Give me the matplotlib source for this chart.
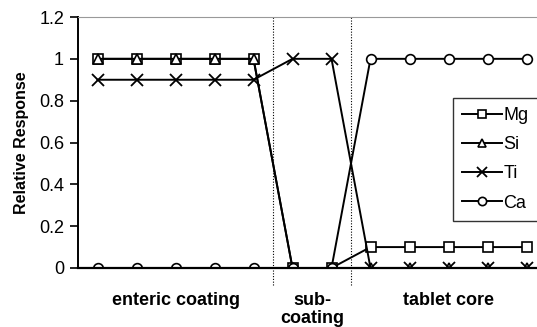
import numpy as np
import matplotlib.pyplot as plt

plt.rcParams['font.family'] = ['Liberation Sans', 'DejaVu Sans']

# sample positions through the tablet (12 measurement points)
positions = np.arange(1, 13)
mg = [1, 1, 1, 1, 1, 0, 0, 0.1, 0.1, 0.1, 0.1, 0.1]
si = [1, 1, 1, 1, 1, 0, 0, 0, 0, 0, 0, 0]
ti = [0.9, 0.9, 0.9, 0.9, 0.9, 1, 1, 0, 0, 0, 0, 0]
ca = [0, 0, 0, 0, 0, 0, 0, 1, 1, 1, 1, 1]

boundaries = [5.5, 7.5]
region_labels = ["enteric coating", "sub-\ncoating", "tablet core"]
region_centers = [3, 6.5, 10]

fig = plt.figure(figsize=(5.37, 3.27), dpi=100)
ax = fig.add_axes([78 / 537, 1 - 268 / 327, 468 / 537, 251 / 327])

ax.plot(positions, mg, color='black', lw=1.4, marker='s', ms=6.5, mfc='white', mec='black', mew=1.2, label='Mg')
ax.plot(positions, si, color='black', lw=1.4, marker='^', ms=7, mfc='white', mec='black', mew=1.2, label='Si')
ax.plot(positions, ti, color='black', lw=1.4, marker='x', ms=8, mec='black', mew=1.3, label='Ti')
ax.plot(positions, ca, color='black', lw=1.4, marker='o', ms=7, mfc='white', mec='black', mew=1.2, label='Ca')

for b in boundaries:
    ax.plot([b, b], [-0.08, 1.2], color='black', lw=0.8, ls=(0, (1, 1.5)), clip_on=False)

ax.set_xlim(0.5, 12.5)
ax.set_ylim(0, 1.2)
ax.set_yticks([0, 0.2, 0.4, 0.6, 0.8, 1, 1.2])
ax.set_yticklabels(['0', '0.2', '0.4', '0.6', '0.8', '1', '1.2'])
ax.set_xticks([])
ax.tick_params(axis='y', direction='out', length=6, width=1.2, labelsize=13, pad=4)

ax.spines['right'].set_visible(False)
ax.spines['top'].set_color('#999999')
ax.spines['left'].set_linewidth(1.4)
ax.spines['bottom'].set_linewidth(1.6)

ax.set_ylabel('Relative Response', fontsize=11.5, fontweight='bold', labelpad=7)

for lab, c in zip(region_labels, region_centers):
    ax.text(c, -0.115, lab, ha='center', va='top', fontsize=13, fontweight='bold',
            linespacing=1.05)

leg = ax.legend(loc='upper left', bbox_to_anchor=(0.801, 0.678),
                fontsize=13, frameon=True, fancybox=False, edgecolor='black',
                handlelength=2.2, handletextpad=0.1, borderpad=0.5, labelspacing=0.68,
                borderaxespad=0, markerscale=0.85)
leg.get_frame().set_linewidth(1.0)

fig.savefig('out.png', dpi=100)
